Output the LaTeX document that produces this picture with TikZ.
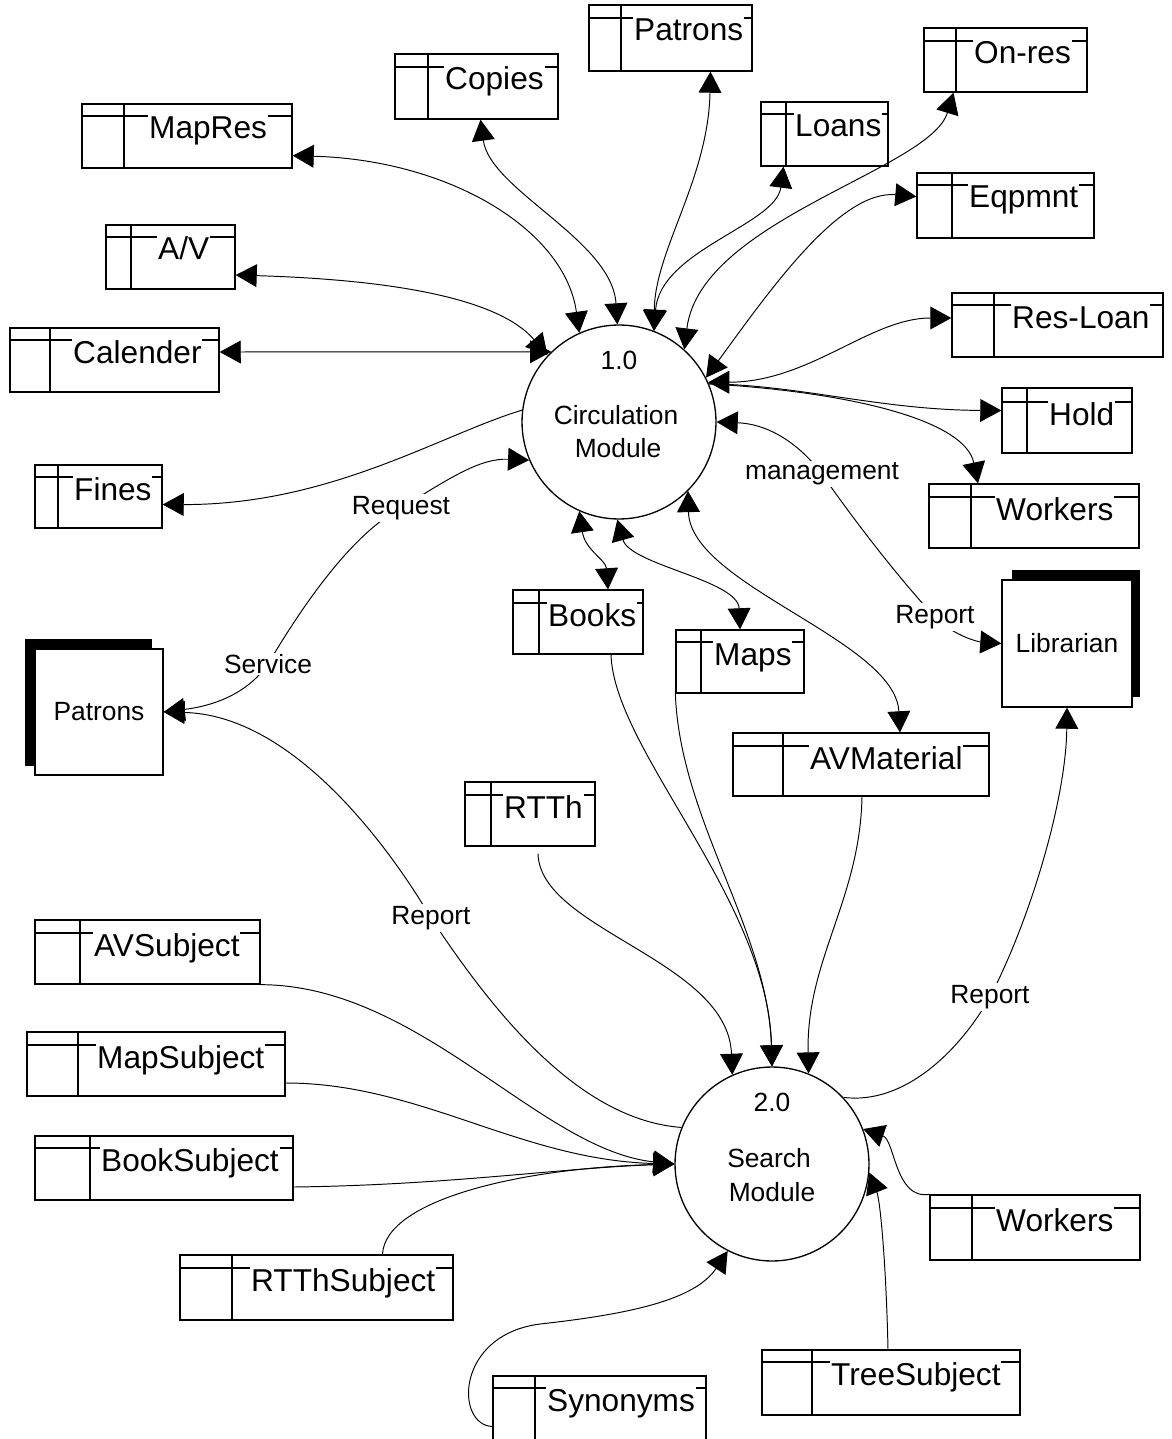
\documentclass[tikz,border=0pt]{standalone}
\usepackage{fontspec}
\setmainfont{Liberation Sans}
\usetikzlibrary{arrows.meta,calc}
\newcommand\dsfont{\fontsize{18}{20}\selectfont}
\newcommand\lbfont{\fontsize{15}{17}\selectfont}
\tikzset{
  store/.style={draw, line width=0.75pt, inner sep=0pt},
  storeline/.style={line width=0.75pt},
  storetext/.style={fill=white, inner xsep=0.5pt, inner ysep=2pt, anchor=base west, font=\dsfont},
  flow/.style={line width=0.55pt, >={Triangle[length=12pt,width=13pt]}},
  proc/.style={circle, draw, line width=0.75pt, minimum size=3.88cm, inner sep=0pt},
  ptext/.style={font=\lbfont, inner sep=1pt},
  ent/.style={draw, fill=white, line width=0.75pt, font=\lbfont, inner sep=0pt},
  lbl/.style={fill=white, inner sep=1pt, font=\lbfont},
}
% data store: name, left, top, right, bottom, divider x, bar y, text x, label
\newcommand\dstore[9]{%
  \node[store, minimum width={(#4-#2)*0.02cm}, minimum height={(#5-#3)*0.02cm}] (#1) at ({(#2+#4)/2},{(#3+#5)/2}) {};
  \draw[storeline] (#6,#3) -- (#6,#5);
  \draw[storeline] (#2,#7) -- (#4,#7);
  \node[storetext] (#1-t) at (#8,{#7+23}) {#9};
}
\begin{document}
\begin{tikzpicture}[x=0.02cm, y=-0.02cm]
\useasboundingbox (0,0) rectangle (1171,1439);

% processes
\node[proc] (c1) at (619,422) {};
\node[ptext] (c1n) at (619,360) {1.0};
\node[ptext] (c1a) at (616,415) {Circulation};
\node[ptext] (c1b) at (618,448) {Module};
\node[proc] (c2) at (772,1164) {};
\node[ptext] (c2n) at (772,1102) {2.0};
\node[ptext] (c2a) at (769,1158) {Search};
\node[ptext] (c2b) at (772,1192) {Module};

% external entities with their shadows
\fill (25,639) rectangle (152,766);
\node[ent, minimum width=2.56cm, minimum height=2.52cm] (patrons) at (99,712) {Patrons};
\fill (1012,570) rectangle (1140,697);
\node[ent, minimum width=2.6cm, minimum height=2.54cm] (librarian) at (1067,643.5) {Librarian};

% data stores
\dstore{mapres}{82}{104}{292}{168}{124}{116}{148}{MapRes}
\dstore{copies}{395}{54}{558}{119}{428}{67}{444}{Copies}
\dstore{patronsDS}{589}{5}{752}{71}{621}{18}{633}{Patrons}
\dstore{loans}{761}{102}{888}{166}{786}{114}{794}{Loans}
\dstore{onres}{924}{28}{1087}{92}{956}{41}{973}{On-res}
\dstore{eqpmnt}{917}{173}{1094}{238}{952}{185}{968}{Eqpmnt}
\dstore{av}{106}{225}{235}{289}{131}{237}{157}{A/V}
\dstore{calender}{10}{328}{219}{392}{50}{340}{72}{Calender}
\dstore{fines}{35}{465}{162}{528}{58}{477}{73}{Fines}
\dstore{resloan}{952}{293}{1163}{357}{994}{305}{1011}{Res-Loan}
\dstore{hold}{1002}{388}{1132}{453}{1027}{402}{1048}{Hold}
\dstore{workersA}{929}{484}{1139}{548}{971}{497}{995}{Workers}
\dstore{books}{513}{590}{643}{654}{539}{603}{547}{Books}
\dstore{maps}{676}{630}{804}{693}{701}{642}{713}{Maps}
\dstore{avmat}{733}{733}{989}{796}{783}{746}{809}{AVMaterial}
\dstore{rtth}{465}{782}{595}{846}{491}{795}{503}{RTTh}
\dstore{avsubj}{35}{920}{260}{984}{80}{933}{93}{AVSubject}
\dstore{mapsubj}{27}{1032}{285}{1096}{78}{1045}{96}{MapSubject}
\dstore{booksubj}{35}{1136}{293}{1200}{90}{1148}{100}{BookSubject}
\dstore{rtthsubj}{180}{1255}{453}{1320}{232}{1268}{250}{RTThSubject}
\dstore{syn}{493}{1376}{706}{1441}{535}{1388}{546}{Synonyms}
\dstore{tree}{762}{1350}{1020}{1415}{812}{1362}{830}{TreeSubject}
\dstore{workersB}{930}{1195}{1140}{1260}{972}{1208}{995}{Workers}

% label positions on the flows
\coordinate (mgmt) at (822,474);
\coordinate (rep1) at (935,617);
\coordinate (req) at (401,508);
\coordinate (serv) at (268,664);
\coordinate (rep2) at (431,918);
\coordinate (rep3) at (990,997);
\coordinate (synbend) at (540,1324);

% flows of the circulation module
\begin{scope}[flow]
\draw[<->] ($(mapres.south east)+(0,-13)$) .. controls (450,160) and (565,230) .. (c1.114);
\draw[<->] ($(av.east)+(0,18)$) .. controls (400,280) and (500,300) .. (c1.137);
\draw[<->] ($(calender.east)+(0,-8)$) -- (c1.134);
\draw[->] (c1.173) .. controls (440,435) and (330,505) .. ($(fines.east)+(0,8)$);
\draw[<->] ($(copies.south)+(4,0)$) .. controls (490,190) and (612,240) .. (c1.91);
\draw[<->] ($(patronsDS.south)+(40,0)$) .. controls (708,180) and (655,250) .. (c1.69);
\draw[<->] ($(loans.south)+(-41,0)$) .. controls (776,225) and (660,250) .. (c1.69);
\draw[<->] ($(onres.south)+(-52,0)$) .. controls (930,170) and (700,220) .. (c1.48);
\draw[<->] ($(eqpmnt.west)+(0,-9)$) .. controls (840,190) and (770,290) .. (c1.27);
\draw[<->] ($(resloan.west)+(0,-7)$) .. controls (870,318) and (810,382) .. (c1.24);
\draw[->] (c1.23) .. controls (800,385) and (880,410) .. ($(hold.west)+(0,-10)$);
\draw[->] (c1.23) .. controls (850,392) and (965,420) .. ($(workersA.north)+(-56,0)$);
\draw[<->] (c1.0) .. controls (770,424) and (800,445) .. (mgmt)
   .. controls (850,515) and (900,580) .. (rep1)
   .. controls (955,637) and (980,642) .. (librarian.west);
\draw[<->] (patrons.east) .. controls (220,705) and (250,690) .. (serv)
   .. controls (300,610) and (350,535) .. (req)
   .. controls (450,478) and (480,458) .. (c1.203);
\draw[<->] (c1.-114) .. controls (585,550) and (606,560) .. ($(books.north)+(30,0)$);
\draw[<->] (c1.-91) .. controls (630,565) and (738,580) .. (maps.north);
\draw[<->] (c1.-45) .. controls (690,585) and (895,640) .. ($(avmat.north)+(39,0)$);

% flows of the search module
\draw[->] ($(books.south)+(33,0)$) .. controls (614,750) and (768,900) .. (c2.90);
\draw[->] (maps.south west) .. controls (680,820) and (768,930) .. (c2.90);
\draw[->] ($(avmat.south)+(1,0)$) .. controls (860,900) and (806,960) .. (c2.68);
\draw[->] ($(rtth.south)+(8,7)$) .. controls (540,930) and (728,960) .. (c2.114);
\draw[->] (c2.43) .. controls (905,1105) and (960,1050) .. (rep3)
   .. controls (1030,920) and (1066,800) .. (librarian.south);
\draw[->] (c2.158) .. controls (580,1120) and (495,1015) .. (rep2)
   .. controls (385,840) and (290,715) .. (patrons.east);
\draw[->] (avsubj.south east) .. controls (420,985) and (540,1150) .. (c2.180);
\draw[->] ($(mapsubj.east)+(0,19)$) .. controls (420,1083) and (520,1160) .. (c2.180);
\draw[->] ($(booksubj.east)+(0,19)$) .. controls (450,1185) and (560,1168) .. (c2.180);
\draw[->] ($(rtthsubj.north)+(66,0)$) .. controls (385,1200) and (520,1168) .. (c2.180);
\draw[->] (workersB.north west) .. controls (895,1200) and (895,1140) .. (c2.21);
\draw[->] ($(tree.north)+(-3,0)$) .. controls (886,1260) and (880,1200) .. (c2.-5);
\draw[->] ($(syn.west)+(0,18)$) .. controls (455,1425) and (455,1335) .. (synbend)
   .. controls (630,1314) and (695,1300) .. (c2.-117);
\end{scope}

% flow labels
\node[lbl] (lmgmt) at (mgmt) {management};
\node[lbl] (lrep1) at (rep1) {Report};
\node[lbl] (lreq) at (req) {Request};
\node[lbl] (lserv) at (serv) {Service};
\node[lbl] (lrep2) at (rep2) {Report};
\node[lbl] (lrep3) at (rep3) {Report};
\end{tikzpicture}
\end{document}
